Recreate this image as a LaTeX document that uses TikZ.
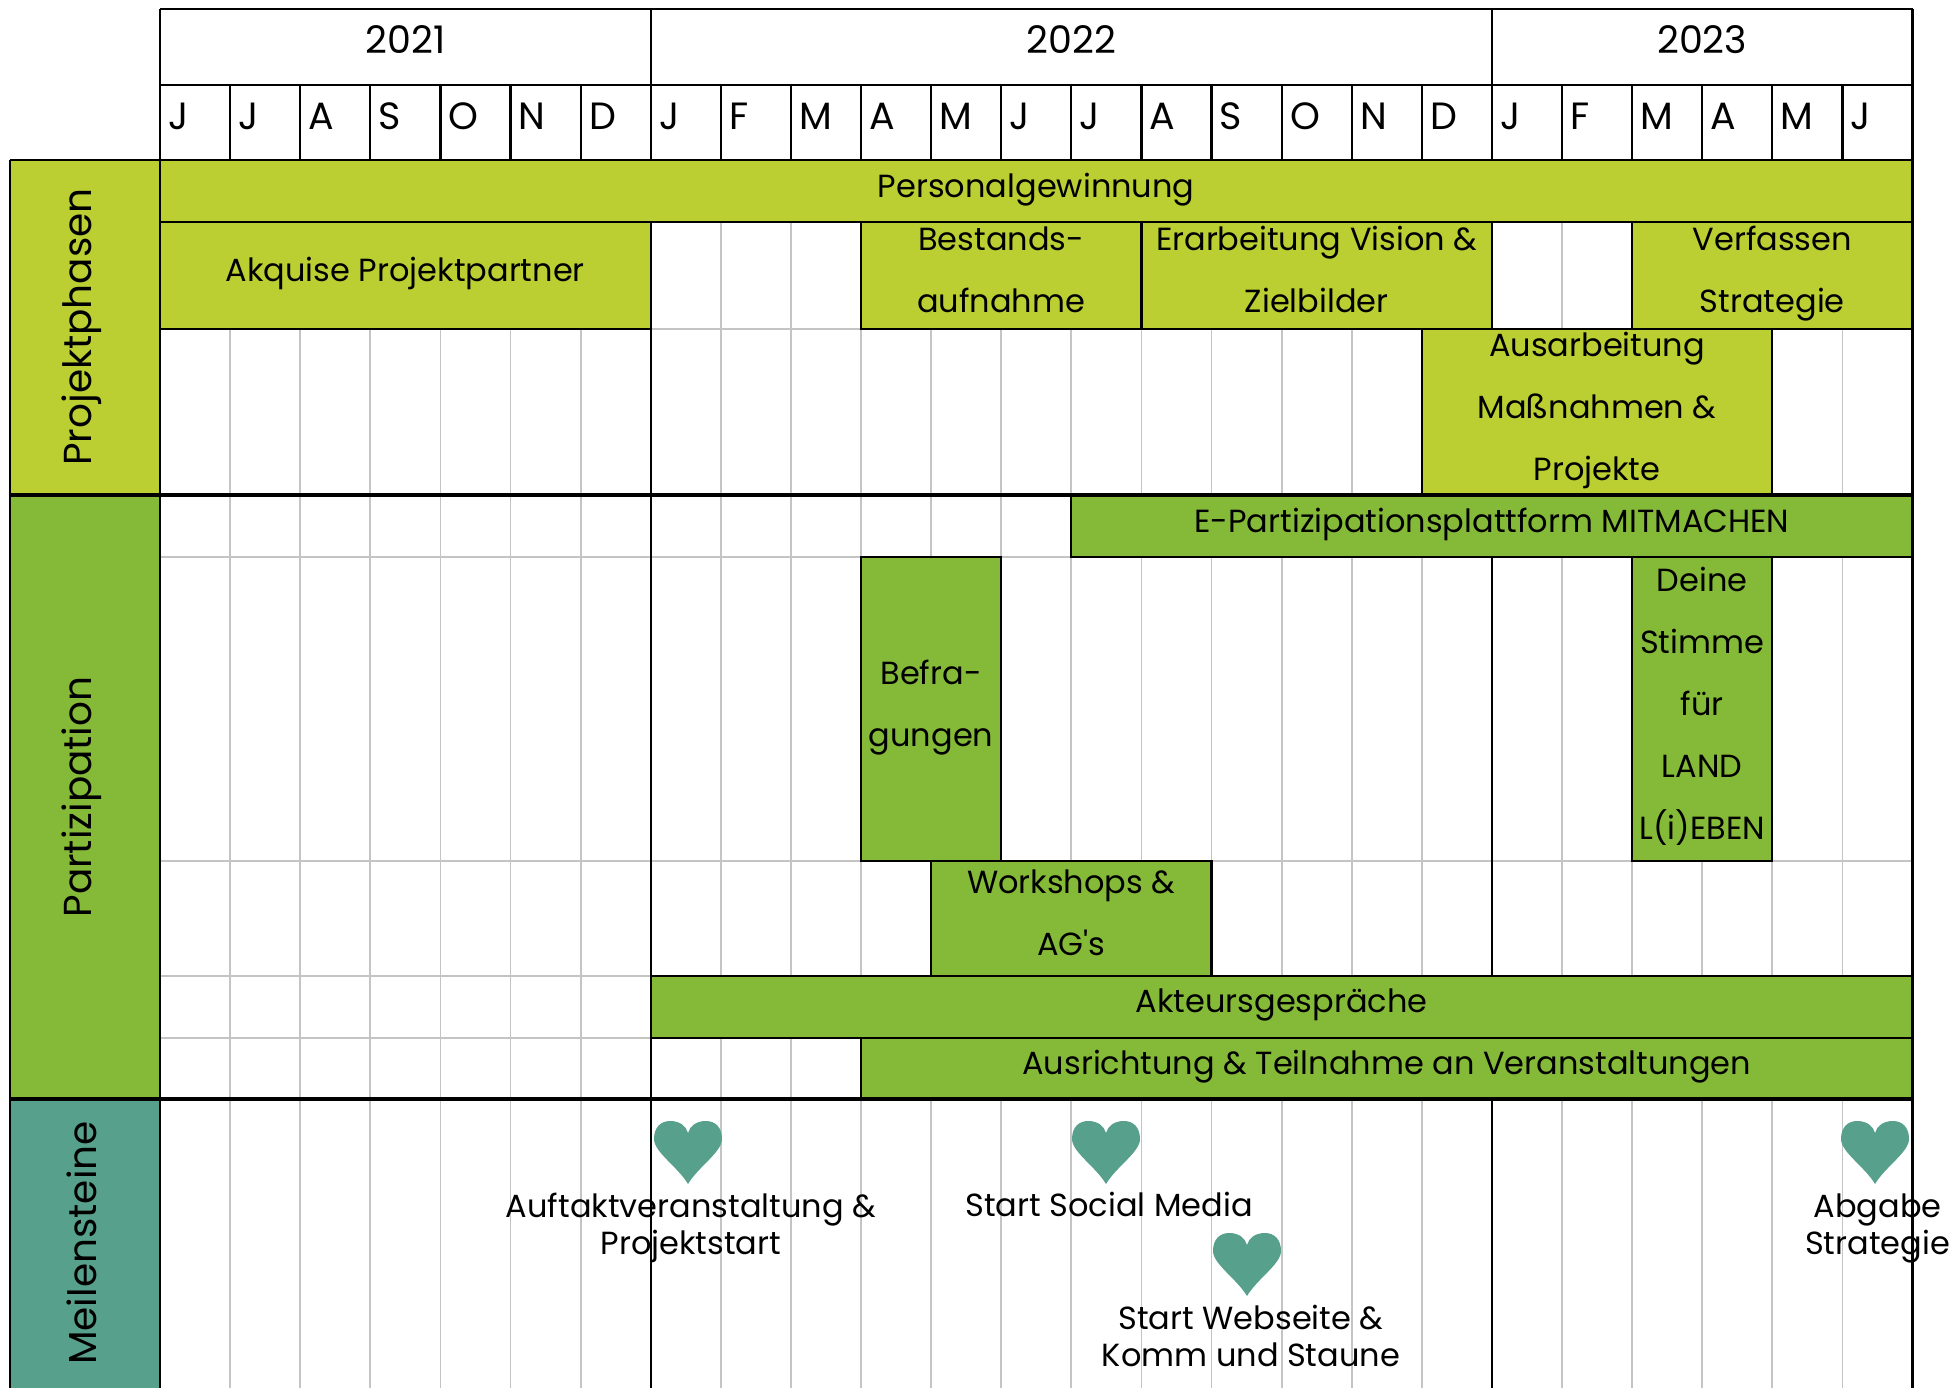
\documentclass[tikz,border=0pt]{standalone}
\usepackage{fontspec}
\setmainfont{Poppins}
\definecolor{lgreen}{HTML}{BBCF32}
\definecolor{mgreen}{HTML}{84BA38}
\definecolor{tealc}{HTML}{57A08B}
\definecolor{gridgray}{HTML}{C4C4C4}
\newcommand\gbar[7]{%
  \draw[#6] ({160+70.1*#2},#4) rectangle ({160+70.1*#3},#5);
  \node[bartext] (#1) at ({160+35.05*(#2+#3)},{(#4+#5)/2}) {#7\rule[-6pt]{0pt}{0pt}};}
\newcommand\heartat[2]{%
  \begin{scope}[shift={(#1,#2)}]
    \fill[heartfill] (0,63) .. controls (-10,46) and (-34,31) .. (-34,18)
      .. controls (-34,6) and (-27,0) .. (-18,0)
      .. controls (-8,0) and (-2,5) .. (0,12)
      .. controls (2,5) and (8,0) .. (18,0)
      .. controls (27,0) and (34,6) .. (34,18)
      .. controls (34,31) and (10,46) .. (0,63) -- cycle;
  \end{scope}}
\begin{document}
\begin{tikzpicture}[x=0.5pt,y=-0.5pt,
  thickline/.style={line width=1.8pt, black},
  barline/.style={line width=1.1pt, black},
  gridline/.style={line width=0.9pt, gridgray},
  bartext/.style={font=\fontsize{16}{31}\selectfont, align=center, inner sep=0pt},
  mstext/.style={font=\fontsize{16}{18.5}\selectfont, align=center, inner sep=0pt},
  monthtext/.style={font=\fontsize{19}{22}\selectfont, inner sep=0pt, anchor=west},
  yeartext/.style={font=\fontsize{19}{22}\selectfont, inner sep=0pt},
  sectext/.style={font=\fontsize{19.5}{22}\selectfont, inner sep=0pt, rotate=90},
  pbar/.style={barline, fill=lgreen},
  qbar/.style={barline, fill=mgreen},
  heartfill/.style={fill=tealc}
]
\useasboundingbox (0,0) rectangle (1959,1388);
\fill[white] (0,0) rectangle (1959,1388);
% label column
\fill[lgreen] (10,160) rectangle (160,495);
\fill[mgreen] (10,495) rectangle (160,1099);
\fill[tealc] (10,1099) rectangle (160,1388);
% grid
\foreach \i in {1,...,24} \draw[gridline] ({160+70.1*\i},160) -- ({160+70.1*\i},1388);
\foreach \y in {329,557,861,976,1038} \draw[gridline] (160,\y) -- (1912.5,\y);
% year boundaries
\foreach \i in {0,7,19,25} \draw[barline] ({160+70.1*\i},9) -- ({160+70.1*\i},1388);
% bars: Projektphasen
\gbar{pers}{0}{25}{160}{222}{pbar}{Personalgewinnung}
\gbar{akq}{0}{7}{222}{329}{pbar}{Akquise Projektpartner}
\gbar{best}{10}{14}{222}{329}{pbar}{Bestands-\\aufnahme}
\gbar{erarb}{14}{19}{222}{329}{pbar}{Erarbeitung Vision \&\\Zielbilder}
\gbar{verf}{21}{25}{222}{329}{pbar}{Verfassen\\Strategie}
\gbar{ausarb}{18}{23}{329}{495}{pbar}{Ausarbeitung\\Maßnahmen \&\\Projekte}
% bars: Partizipation
\gbar{epart}{13}{25}{495}{557}{qbar}{E-Partizipationsplattform MITMACHEN}
\gbar{befr}{10}{12}{557}{861}{qbar}{Befra-\\gungen}
\gbar{deine}{21}{23}{557}{861}{qbar}{Deine\\Stimme\\für\\LAND\\L(i)EBEN}
\gbar{works}{11}{15}{861}{976}{qbar}{Workshops \&\\AG\textquotesingle s}
\gbar{akteur}{7}{25}{976}{1038}{qbar}{Akteursgespräche}
\gbar{ausr}{10}{25}{1038}{1099}{qbar}{Ausrichtung \& Teilnahme an Veranstaltungen}
% header
\foreach \y in {9,85,160} \draw[barline] (160,\y) -- (1912.5,\y);
\foreach \i in {1,...,24} \draw[barline] ({160+70.1*\i},85) -- ({160+70.1*\i},160);
\node[yeartext] (y21) at ({160+70.1*3.5},40) {2021};
\node[yeartext] (y22) at ({160+70.1*13},40) {2022};
\node[yeartext] (y23) at ({160+70.1*22},40) {2023};
\foreach \m [count=\k from 0] in {J,J,A,S,O,N,D,J,F,M,A,M,J,J,A,S,O,N,D,J,F,M,A,M,J}
  \node[monthtext] (m\k) at ({168+70.1*\k},116.5) {\m};
% section lines and label column borders
\draw[barline] (10,160) -- (160,160);
\draw[barline] (10,160) -- (10,1388);
\draw[thickline] (10,495) -- (1912.5,495);
\draw[thickline] (10,1099) -- (1912.5,1099);
\node[sectext] (lp) at (82,327) {Projektphasen};
\node[sectext] (lq) at (82,797) {Partizipation};
\node[sectext] (lm) at (82,1243) {Meilensteine};
% milestones
\heartat{688}{1121}
\heartat{1106}{1121}
\heartat{1247}{1233}
\heartat{1875}{1121}
\node[mstext] (ms1) at (691,1228) {Auftaktveranstaltung \&\\Projektstart};
\node[mstext] (ms2) at (1109,1204) {Start Social Media};
\node[mstext] (ms3) at (1251,1336) {Start Webseite \&\\Komm und Staune};
\node[mstext] (ms4) at (1877.5,1228) {Abgabe\\Strategie};
\end{tikzpicture}
\end{document}
